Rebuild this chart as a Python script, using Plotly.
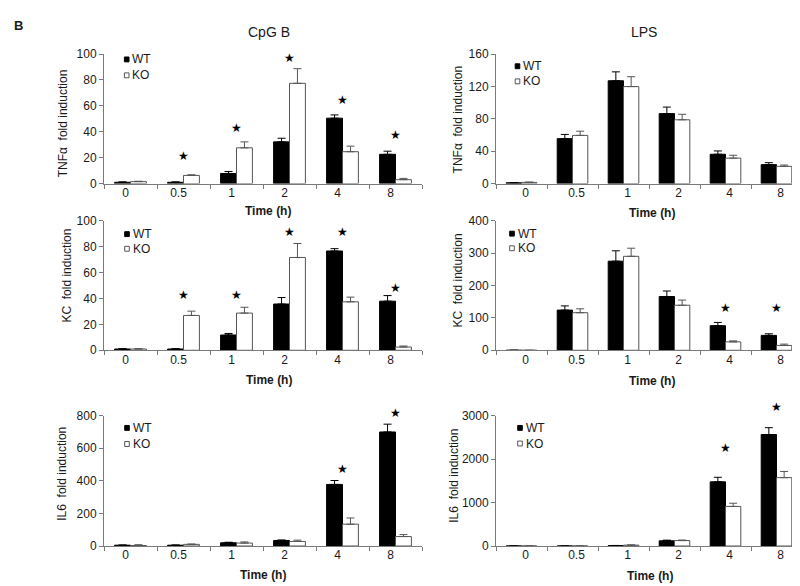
import plotly.graph_objects as go

W, H = 800, 586

times = ["0", "0.5", "1", "2", "4", "8"]

# TNFα, CpG B
tnf_cpg_wt = [1, 1, 7.8, 32.2, 50.5, 22.6]
tnf_cpg_wt_err = [0.3, 0.3, 1.5, 2.8, 2.5, 2.4]
tnf_cpg_ko = [1.5, 6.3, 27.6, 77.4, 24.6, 3]
tnf_cpg_ko_err = [0.3, 0.5, 4.6, 11.3, 4.3, 1]
tnf_cpg_star = [None, 21.4, 43, 96.7, 64.3, 37.7]

# TNFα, LPS
tnf_lps_wt = [1, 55.5, 127, 86.4, 36.2, 23.4]
tnf_lps_wt_err = [0.3, 5.2, 11, 8.1, 4.1, 2.4]
tnf_lps_ko = [1.5, 59.5, 119.8, 78.8, 31.4, 21.3]
tnf_lps_ko_err = [0.3, 5.2, 12.2, 6.8, 3.6, 1.6]
tnf_lps_star = [None, None, None, None, None, None]

# KC, CpG B
kc_cpg_wt = [1, 1, 11.8, 35.7, 76.6, 37.9]
kc_cpg_wt_err = [0.2, 0.2, 1.2, 5, 1.8, 4.3]
kc_cpg_ko = [1, 26.9, 28.7, 71.6, 37.4, 2.5]
kc_cpg_ko_err = [0.2, 3.3, 4.5, 10.8, 3.6, 0.8]
kc_cpg_star = [None, 42.7, 42.7, 91.2, 91.2, 48.3]

# KC, LPS
kc_lps_wt = [0, 124, 275, 166, 76, 46]
kc_lps_wt_err = [None, 13, 32, 17, 10, 5]
kc_lps_ko = [0, 116, 290, 139, 26, 15]
kc_lps_ko_err = [None, 12, 25, 16, 3, 4]
kc_lps_star = [None, None, None, None, 129, 129]

# IL6, CpG B
il6_cpg_wt = [5, 5, 20, 34, 378, 700]
il6_cpg_wt_err = [1, 1, 3, 3, 24, 48]
il6_cpg_ko = [3, 10, 18, 28, 134, 58]
il6_cpg_ko_err = [5, 2, 7, 8, 38, 12]
il6_cpg_star = [None, None, None, None, 474, 814]

# IL6, LPS
il6_lps_wt = [0, 0, 10, 120, 1478, 2567]
il6_lps_wt_err = [None, None, 3, 15, 104, 157]
il6_lps_ko = [0, 0, 20, 125, 911, 1574]
il6_lps_ko_err = [None, None, 3, 12, 74, 143]
il6_lps_star = [None, None, None, None, 2254, 3208]

column_titles = ["CpG B", "LPS"]
y_titles = ["TNFα\u00a0 fold induction", "TNFα\u00a0 fold induction",
            "KC\u00a0 fold induction", "KC\u00a0 fold induction",
            "IL6\u00a0 fold induction", "IL6\u00a0 fold induction"]
y_ranges = [100, 160, 100, 400, 800, 3000]
y_dticks = [20, 40, 20, 100, 200, 1000]

panels = [
    (tnf_cpg_wt, tnf_cpg_wt_err, tnf_cpg_ko, tnf_cpg_ko_err, tnf_cpg_star),
    (tnf_lps_wt, tnf_lps_wt_err, tnf_lps_ko, tnf_lps_ko_err, tnf_lps_star),
    (kc_cpg_wt, kc_cpg_wt_err, kc_cpg_ko, kc_cpg_ko_err, kc_cpg_star),
    (kc_lps_wt, kc_lps_wt_err, kc_lps_ko, kc_lps_ko_err, kc_lps_star),
    (il6_cpg_wt, il6_cpg_wt_err, il6_cpg_ko, il6_cpg_ko_err, il6_cpg_star),
    (il6_lps_wt, il6_lps_wt_err, il6_lps_ko, il6_lps_ko_err, il6_lps_star),
]

# ---- layout geometry (pixels) ----
col_x = [(96, 414), (488, 794)]
row_y = [(40, 172.7), (210.7, 343.5), (410.5, 544)]
ytitle_pos = [(55, 111), (450, 107), (59, 267), (450, 272), (54, 470), (446, 472)]
time_pos = [(260, 201), (644, 203), (261, 374), (644, 374.5), (255, 573.5), (642, 575)]
legend_pos = [(118.7, 45.5, 61.8), (509.5, 52.5, 68), (119, 224.5, 239.5),
              (504, 224, 239), (119, 423, 439.5), (512, 423, 439)]
tick_shift = [-5, 4]

FONT = "Liberation Sans, Arial, sans-serif"
TXT = "#1a1a1a"
AX = "#7a7a7a"

def fx(px):
    return px / W

def fy(py):
    return 1 - py / H

fig = go.Figure()
annotations = []
shapes = []

for i, (wt, wt_err, ko, ko_err, star) in enumerate(panels):
    r, c = divmod(i, 2)
    n = "" if i == 0 else str(i + 1)
    xa, ya = "x" + n, "y" + n
    fig.add_trace(go.Bar(
        x=times, y=wt, name="WT", xaxis=xa, yaxis=ya, showlegend=False,
        marker=dict(color="black", line=dict(color="black", width=1)),
        error_y=dict(type="data", symmetric=False, array=wt_err,
                     arrayminus=[0] * 6, color="black", thickness=1, width=4),
    ))
    fig.add_trace(go.Bar(
        x=times, y=ko, name="KO", xaxis=xa, yaxis=ya, showlegend=False,
        marker=dict(color="white", line=dict(color="#555555", width=1)),
        error_y=dict(type="data", symmetric=False, array=ko_err,
                     arrayminus=[0] * 6, color="#555555", thickness=1, width=4),
    ))
    # significance stars: x = category index, y as a fraction of the axis range
    # (domain reference so stars above the axis top are still drawn)
    for k, s in enumerate(star):
        if s is not None:
            annotations.append(dict(x=k, y=s / y_ranges[i], xref=xa, yref=ya + " domain",
                                    text="★", showarrow=False,
                                    xanchor="center", yanchor="middle",
                                    font=dict(size=12, color="black", family="DejaVu Sans")))
    x0, x1 = col_x[c]
    y0, y1 = row_y[r]
    fig.update_layout(**{
        "xaxis" + n: dict(
            domain=[fx(x0), fx(x1)], anchor=ya, type="category",
            categoryorder="array", categoryarray=times,
            range=[-0.5, 5.5], showline=True, linecolor=AX, linewidth=1,
            ticks="outside", tickson="boundaries", ticklen=4, tickcolor=AX,
            showgrid=False, zeroline=False, ticklabelshift=tick_shift[c],
            ticklabelstandoff=-2,
            tickfont=dict(family=FONT, size=12, color=TXT),
        ),
        "yaxis" + n: dict(
            domain=[fy(y1), fy(y0)], anchor=xa, range=[0, y_ranges[i]],
            dtick=y_dticks[i], showline=True, linecolor=AX, linewidth=1,
            ticks="outside", ticklen=4, tickcolor=AX, showgrid=False,
            zeroline=False, tickfont=dict(family=FONT, size=12, color=TXT),
        ),
    })
    # y title
    tx, ty = ytitle_pos[i]
    annotations.append(dict(x=fx(tx), y=fy(ty), xref="paper", yref="paper",
                            text=y_titles[i], textangle=-90, showarrow=False,
                            font=dict(family=FONT, size=12, color=TXT),
                            xanchor="center", yanchor="middle"))
    # x title
    tx, ty = time_pos[i]
    annotations.append(dict(x=fx(tx), y=fy(ty), xref="paper", yref="paper",
                            text="<b>Time (h)</b>", showarrow=False,
                            font=dict(family=FONT, size=12, color=TXT),
                            xanchor="center", yanchor="middle"))
    # legend
    lx, lwt, lko = legend_pos[i]
    for ly, fill, edge, label in [(lwt, "black", "black", "WT"), (lko, "white", "#555555", "KO")]:
        shapes.append(dict(type="rect", xref="paper", yref="paper",
                           x0=fx(lx - 2.3), x1=fx(lx + 2.3), y0=fy(ly + 2.5), y1=fy(ly - 2.5),
                           fillcolor=fill, line=dict(color=edge, width=1)))
        annotations.append(dict(x=fx(lx + 3.6), y=fy(ly), xref="paper", yref="paper",
                                text=label, showarrow=False,
                                font=dict(family=FONT, size=12, color=TXT),
                                xanchor="left", yanchor="middle"))

# column titles
for txt, cx in zip(column_titles, [261, 636]):
    annotations.append(dict(x=fx(cx), y=fy(17.5), xref="paper", yref="paper",
                            text=txt, showarrow=False,
                            font=dict(family=FONT, size=14, color=TXT),
                            xanchor="center", yanchor="middle"))
annotations.append(dict(x=fx(10), y=fy(11), xref="paper", yref="paper",
                        text="<b>B</b>", showarrow=False,
                        font=dict(family=FONT, size=13, color=TXT),
                        xanchor="center", yanchor="middle"))

fig.update_layout(
    width=W, height=H, margin=dict(l=0, r=0, t=0, b=0),
    paper_bgcolor="white", plot_bgcolor="white",
    barmode="group", bargap=0.4, bargroupgap=0,
    annotations=annotations, shapes=shapes, showlegend=False,
    font=dict(family=FONT, color=TXT),
)

fig.write_html("out.html")
